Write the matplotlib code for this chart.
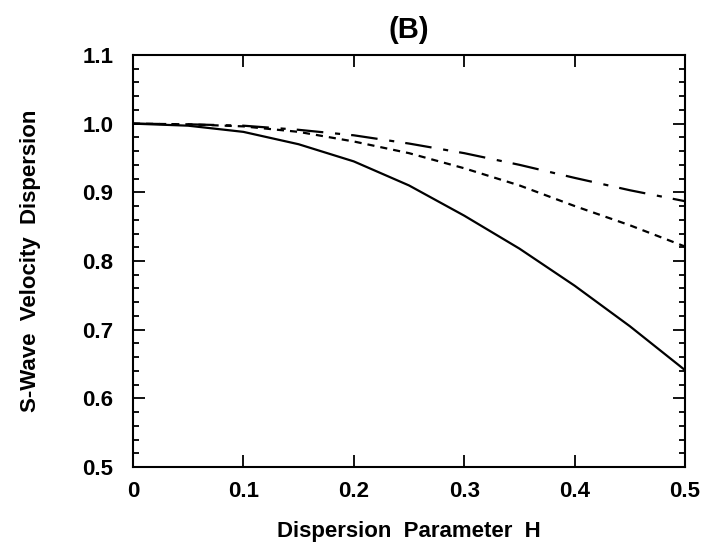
import matplotlib
matplotlib.use("Agg")
from matplotlib import pyplot as plt
from matplotlib.ticker import MultipleLocator

plt.rcParams['font.family'] = ['Liberation Sans', 'DejaVu Sans']
plt.rcParams['font.weight'] = 'bold'

# dispersion parameter H
h = [0.0, 0.05, 0.1, 0.15, 0.2, 0.25, 0.3, 0.35, 0.4, 0.45, 0.5]

# S-wave velocity dispersion, three curves
solid = [1.0, 0.997, 0.988, 0.970, 0.945, 0.910, 0.866, 0.818, 0.764, 0.705, 0.641]
short_dash = [1.0, 0.999, 0.996, 0.988, 0.974, 0.957, 0.935, 0.910, 0.880, 0.852, 0.821]
long_dash = [1.0, 0.999, 0.997, 0.991, 0.983, 0.971, 0.957, 0.940, 0.921, 0.903, 0.887]

fig = plt.figure(figsize=(7.07, 5.44), dpi=100)
ax = fig.add_axes([0.188, 0.1415, 0.781, 0.7575])

lw = 1.6
ax.plot(h, solid, color='black', lw=lw)
ax.plot(h, short_dash, color='black', lw=lw, dashes=(3.2, 2.7))
ax.plot(h, long_dash, color='black', lw=lw, dashes=(12, 5.3, 2.3, 5))

ax.set_xlim(0, 0.5)
ax.set_ylim(0.5, 1.1)
ax.yaxis.set_minor_locator(MultipleLocator(0.02))
ax.set_xticks([0, 0.1, 0.2, 0.3, 0.4, 0.5])
ax.set_xticklabels(['0', '0.1', '0.2', '0.3', '0.4', '0.5'])
ax.set_yticks([0.5, 0.6, 0.7, 0.8, 0.9, 1.0, 1.1])
ax.set_yticklabels(['0.5', '0.6', '0.7', '0.8', '0.9', '1.0', '1.1'])

ax.tick_params(which='both', direction='in', top=True, right=True, width=1.3)
ax.tick_params(which='major', length=8.5, labelsize=16, pad=10)
ax.tick_params(axis='y', which='major', pad=14)
ax.tick_params(which='minor', length=4.5)
for s in ax.spines.values():
    s.set_linewidth(1.5)

ax.set_xlabel('Dispersion  Parameter  H', fontsize=16, fontweight='bold', labelpad=14)
ax.set_ylabel('S-Wave  Velocity  Dispersion', fontsize=16, fontweight='bold', labelpad=30)
ax.set_title('(B)', fontsize=21, fontweight='bold', pad=12)

fig.savefig('out.png', dpi=100)
